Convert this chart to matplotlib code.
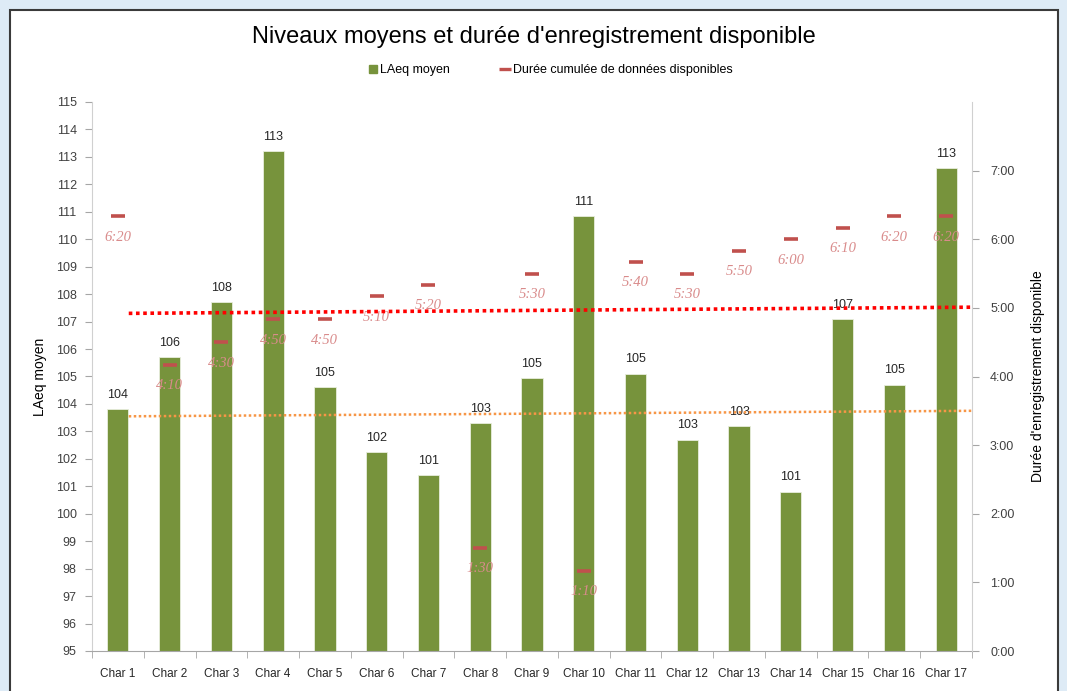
import matplotlib
matplotlib.use("Agg")
import matplotlib.pyplot as plt
import matplotlib.patches as mpatches
from matplotlib.lines import Line2D
import numpy as np

categories = [f"Char {i}" for i in range(1, 18)]
laeq = [103.8, 105.7, 107.7, 113.2, 104.6, 102.25, 101.4, 103.3, 104.95,
        110.85, 105.1, 102.7, 103.2, 100.8, 107.1, 104.7, 112.6]
laeq_labels = [104, 106, 108, 113, 105, 102, 101, 103, 105,
               111, 105, 103, 103, 101, 107, 105, 113]
duration_min = [380, 250, 270, 290, 290, 310, 320, 90, 330,
                70, 340, 330, 350, 360, 370, 380, 380]
# reference lines (hours) at start/end positions
ref_x = [1.21, 17.5]
red_ref = [4.92, 5.01]
orange_ref = [3.42, 3.50]

FONT = ['Liberation Sans', 'DejaVu Sans']
plt.rcParams['font.family'] = FONT

fig = plt.figure(figsize=(10.67, 6.91), dpi=100)
fig.patch.set_facecolor('#deebf6')
panel = mpatches.Rectangle((10/1067, -0.05), 1048/1067, 1 - 10/691 + 0.05,
                           transform=fig.transFigure, facecolor='white',
                           edgecolor='#3a3a3a', linewidth=1.5, zorder=-10)
fig.patches.append(panel)

ax = fig.add_axes([92/1067, 40/691, 880/1067, 549/691])
ax.set_facecolor('none')
x = np.arange(1, 18)
ax.bar(x, laeq, width=0.41, color='#77933c', edgecolor='#e8eedd', linewidth=0.6,
       bottom=0, zorder=2)
ax.set_ylim(95, 115)
ax.set_xlim(0.5, 17.5)
for xi, v, lab in zip(x, laeq, laeq_labels):
    ax.annotate(str(lab), (xi, v), xytext=(0, 6), textcoords='offset points',
                ha='center', va='bottom', fontsize=9, color='#262626', zorder=5)

ax.set_yticks(np.arange(95, 116, 1))
ax.set_yticklabels([str(v) for v in range(95, 116)], fontsize=9, color='#404040')
for t, v in zip(ax.yaxis.get_major_ticks(), range(95, 116)):
    if v % 2 == 0:
        t.tick1line.set_visible(False)
ax.tick_params(axis='y', length=5, color='#a6a6a6', direction='out', pad=6)
ax.set_xticks(x)
ax.set_xticklabels(categories, fontsize=8.5, color='#262626')
ax.tick_params(axis='x', length=0, pad=12)
ax.set_xticks(np.arange(0.5, 18, 1), minor=True)
ax.tick_params(axis='x', which='minor', length=5, color='#a6a6a6', direction='out')
ax.spines['top'].set_visible(False)
ax.spines['right'].set_visible(False)
ax.spines['left'].set_color('#d0d0d0')
ax.spines['bottom'].set_color('#a6a6a6')
ax.set_ylabel('LAeq moyen', fontsize=10, color='#000000', labelpad=6)

ax2 = ax.twinx()
ax2.set_ylim(0, 8)
ax2.set_yticks(np.arange(0, 8, 1))
ax2.set_yticklabels([f"{h}:00" for h in range(0, 8)], fontsize=9, color='#404040')
ax2.tick_params(axis='y', length=5, color='#a6a6a6', direction='out', pad=8)
for s in ['top', 'left', 'bottom']:
    ax2.spines[s].set_visible(False)
ax2.spines['right'].set_color('#d0d0d0')
ax2.set_ylabel("Durée d'enregistrement disponible", fontsize=10, color='#000000',
               labelpad=12)

hours = np.array(duration_min) / 60.0
ax2.plot(x, hours, linestyle='none', marker='_', markersize=10, markeredgewidth=2.6,
         color='#c0504d', zorder=4)
for xi, h, m in zip(x, hours, duration_min):
    ax2.annotate(f"{m // 60}:{m % 60:02d}", (xi, h), xytext=(0, -15),
                 textcoords='offset points', ha='center', va='center',
                 fontsize=10.5, color='#d98b8b', style='italic',
                 family=['Liberation Serif', 'DejaVu Serif'], zorder=5)

ax2.plot(ref_x, red_ref, linestyle=(0, (1, 1)), color='#ff0000', linewidth=2.6,
         zorder=6)
ax2.plot(ref_x, orange_ref, linestyle=(0, (1, 1)), color='#f79646', linewidth=1.8,
         zorder=6)

fig.text(534/1067, 1 - 37/691, "Niveaux moyens et durée d'enregistrement disponible",
         ha='center', va='center', fontsize=17, color='#000000')

handles = [Line2D([], [], linestyle='none', marker='s', markersize=6,
                  color='#77933c'),
           Line2D([], [], linestyle='none', marker='_', markersize=8,
                  markeredgewidth=2.4, color='#c0504d')]
fig.legend(handles, ['LAeq moyen', 'Durée cumulée de données disponibles'],
           loc='center', bbox_to_anchor=(550/1067, 1 - 70/691), ncol=2,
           frameon=False, fontsize=9, handlelength=0.8, handletextpad=0.2,
           columnspacing=4)

fig.savefig('out.png', dpi=100, facecolor=fig.get_facecolor())
